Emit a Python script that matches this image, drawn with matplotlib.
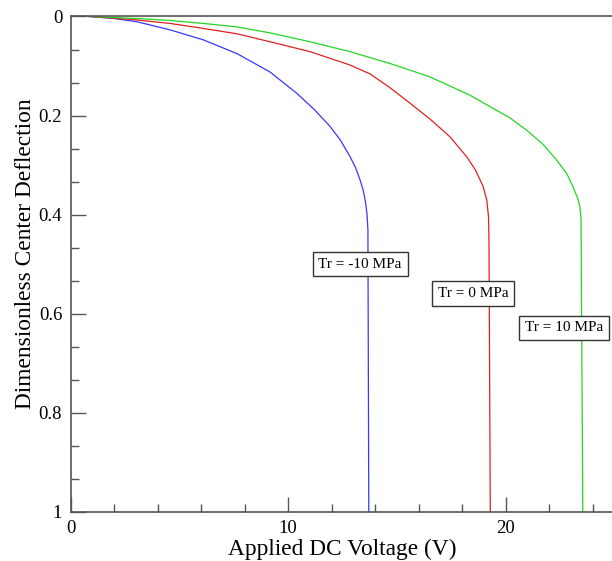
import matplotlib
matplotlib.use("Agg")
import matplotlib.pyplot as plt
from matplotlib.ticker import MultipleLocator

plt.rcParams['font.family'] = ['Liberation Serif', 'DejaVu Serif']

# Data (Applied DC voltage V, dimensionless center deflection)
blue_v = [0.8, 2.0, 3.04, 4.57, 6.09, 7.65, 9.16, 10.39, 11.2, 11.92, 12.4, 12.84, 13.1, 13.30, 13.45, 13.55, 13.62, 13.66, 13.70]
blue_d = [0.0, 0.004, 0.0105, 0.027, 0.047, 0.075, 0.112, 0.155, 0.188, 0.222, 0.250, 0.283, 0.306, 0.330, 0.352, 0.375, 0.40, 0.43, 1.0]

red_v = [0.9, 3.04, 4.57, 6.09, 7.65, 9.16, 11.0, 12.84, 13.76, 14.68, 15.59, 16.51, 17.43, 18.21, 18.6, 18.95, 19.12, 19.20, 19.22, 19.28]
red_d = [0.0, 0.007, 0.014, 0.024, 0.035, 0.051, 0.071, 0.098, 0.116, 0.144, 0.175, 0.207, 0.243, 0.284, 0.310, 0.343, 0.371, 0.405, 0.452, 1.0]

green_v = [0.9, 3.04, 4.57, 6.09, 7.65, 9.16, 11.0, 12.84, 14.68, 16.51, 18.35, 20.19, 20.96, 21.7, 22.33, 22.8, 23.08, 23.30, 23.40, 23.45, 23.47, 23.53]
green_d = [0.0, 0.004, 0.008, 0.014, 0.021, 0.033, 0.051, 0.071, 0.095, 0.122, 0.159, 0.205, 0.230, 0.258, 0.290, 0.318, 0.344, 0.368, 0.385, 0.411, 0.57, 1.0]

labels = ["Tr = -10 MPa", "Tr = 0 MPa", "Tr = 10 MPa"]
label_v = [13.3, 18.49, 22.67]
label_d = [0.50, 0.56, 0.629]

fig = plt.figure(figsize=(6.12, 5.61), dpi=100)
ax = fig.add_axes([0.1152, 0.0879, 0.8894, 0.8827])

ax.plot(blue_v, blue_d, color='#3838ff', lw=0.9)
ax.plot(red_v, red_d, color='#e02020', lw=0.9)
ax.plot(green_v, green_d, color='#22d622', lw=0.9)

for t, v, d in zip(labels, label_v, label_d):
    ax.text(v, d, t, ha='center', va='center', fontsize=11, color='black',
            bbox=dict(boxstyle='square,pad=0.38', fc='white', ec='#333333', lw=1.0))

ax.set_xlim(0, 25)
ax.set_ylim(1, 0)
ax.xaxis.set_major_locator(MultipleLocator(10))
ax.xaxis.set_minor_locator(MultipleLocator(2))
ax.yaxis.set_minor_locator(MultipleLocator(0.2 / 3))
ax.set_yticks([0, 0.2, 0.4, 0.6, 0.8, 1.0])
ax.set_yticklabels(['0', '0.2', '0.4', '0.6', '0.8', '1'])

ax.spines['right'].set_visible(False)
for s in ['left', 'top', 'bottom']:
    ax.spines[s].set_color('#555555')
    ax.spines[s].set_linewidth(1.2)

ax.tick_params(which='both', direction='in', colors='#555555', labelcolor='black', width=1.0,
               labelsize=13.5, top=False, right=False)
ax.tick_params(which='major', length=11, pad=6)
ax.tick_params(which='minor', length=6)

ax.set_xlabel('Applied DC Voltage (V)', fontsize=16.8, labelpad=1)
ax.set_ylabel('Dimensionless Center Deflection', fontsize=16.8)
ax.yaxis.set_label_coords(-0.064, 0.52)

fig.savefig('out.png', dpi=100)
